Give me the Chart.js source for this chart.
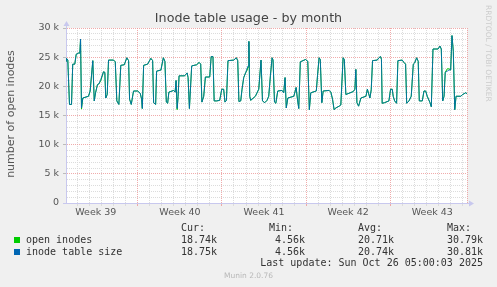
<!DOCTYPE html>
<html><head><meta charset="utf-8">
<script src="https://cdn.jsdelivr.net/npm/chart.js@4/dist/chart.umd.min.js"></script>
<style>
html,body{margin:0;padding:0;background:#f0f0f0;}
#wrap{position:relative;width:497px;height:287px;overflow:hidden;background:#f0f0f0;}
canvas{position:absolute;left:0;top:0;}
.t{position:absolute;white-space:pre;}
.title{font-family:'DejaVu Sans';font-size:12.7px;color:#444;left:0;width:497px;text-align:center;top:10px;line-height:16px;}
.ylab{font-family:'DejaVu Sans';font-size:11px;color:#555;left:-89px;top:107px;width:200px;height:14px;line-height:14px;text-align:center;transform:rotate(-90deg);}
.wm{font-family:'DejaVu Sans';font-size:7.5px;color:#cccccc;writing-mode:vertical-rl;left:484px;top:5px;line-height:8px;}
.mono{font-family:'DejaVu Sans Mono';font-size:10px;color:#333;line-height:12px;}
.ver{font-family:'DejaVu Sans';font-size:7.5px;color:#b8b8b8;left:0;width:497px;text-align:center;top:271px;line-height:10px;}
.sq{position:absolute;width:6px;height:6px;}
</style>
</head><body>
<div id="wrap">
<canvas id="c" width="497" height="287"></canvas>
<div class="t title">Inode table usage - by month</div>
<div class="t ylab">number of open inodes</div>
<div class="t wm">RRDTOOL / TOBI OETIKER</div>
<div id="legend"></div>
<div class="t ver">Munin 2.0.76</div>
</div>
<script>
// x: days since Mon Sep 22 (start of Week 39); y: thousands of inodes
const days = [
1.02,1.06,1.17,1.31,1.48,1.58,1.75,1.87,2.06,2.17,
2.23,2.31,2.42,2.89,3.03,3.25,3.37,3.48,3.64,3.75,
3.92,4.14,4.25,4.33,4.45,4.56,4.98,5.12,5.25,5.42,
5.58,5.87,6.08,6.23,6.31,6.45,6.64,6.98,7.2,7.31,
7.37,7.48,7.81,8.08,8.23,8.31,8.48,8.56,8.92,9.12,
9.25,9.37,9.48,9.58,9.98,10.1,10.18,10.27,10.35,10.43,
10.89,11.1,11.18,11.29,11.48,11.89,12.1,12.23,12.33,12.48,
12.62,12.98,13.1,13.25,13.35,13.56,13.81,13.98,14.14,14.25,
14.37,14.5,14.98,15.2,15.31,15.41,15.56,15.67,15.81,15.98,
16.08,16.17,16.24,16.31,16.39,16.78,17.06,17.25,17.37,17.56,
17.75,17.89,18.03,18.17,18.25,18.37,18.48,18.64,19.0,19.14,
19.25,19.35,19.48,19.98,20.17,20.27,20.39,20.52,20.95,21.14,
21.27,21.39,21.85,21.95,22.08,22.18,22.31,22.42,22.92,23.06,
23.2,23.33,23.48,23.75,23.89,24.08,24.18,24.31,24.92,25.06,
25.14,25.23,25.37,25.56,25.98,26.1,26.31,26.42,26.53,26.92,
27.06,27.2,27.27,27.33,27.53,27.89,28.03,28.17,28.25,28.37,
28.53,28.64,29.0,29.14,29.28,29.37,29.56,29.75,29.92,30.03,
30.2,30.33,30.42,30.67,30.81,30.95,31.08,31.31,31.42,31.56,
31.98,32.14,32.25,32.37,32.48,32.58,32.75,32.89,33.03,33.14,
33.25,33.37,33.48,33.87,34.03,34.28,34.39];

const tableSize = [
24.3,24.8,24.5,16.9,16.9,23.8,23.8,25.5,25.7,25.7,
28.1,16.3,18.0,18.3,19.2,24.4,17.5,18.9,20.3,20.4,
21.2,22.5,22.4,18.0,18.6,24.5,24.5,24.2,17.5,16.9,
23.6,23.7,24.9,24.4,17.8,16.9,19.2,19.2,18.8,17.8,
16.2,23.6,23.8,24.8,24.4,17.2,16.9,22.6,22.8,24.9,
24.3,17.3,17.1,19.0,19.3,19.0,21.0,16.2,18.3,21.8,
21.8,22.3,21.5,16.2,23.5,23.7,24.1,23.8,17.3,18.3,
21.6,21.6,25.1,25.1,17.5,17.5,17.6,19.5,19.5,17.3,
17.6,24.4,24.5,24.9,24.4,17.4,17.5,19.5,21.5,22.4,
23.0,23.5,27.7,18.3,17.6,18.3,19.5,24.5,17.5,17.2,
17.6,18.3,21.8,24.9,24.5,17.3,17.1,19.2,19.3,18.9,
21.5,16.3,18.0,18.3,19.8,18.0,16.2,24.2,24.6,24.3,
16.0,18.9,19.2,21.8,24.9,24.6,17.2,19.2,19.3,19.0,
17.8,16.0,16.3,16.6,16.8,24.9,24.6,18.6,19.1,19.5,
22.9,17.2,16.6,18.0,18.3,19.5,18.0,19.4,24.4,24.5,
24.9,25.1,24.6,17.1,17.2,17.5,19.5,19.5,18.3,17.5,
17.1,24.4,24.5,24.1,23.8,17.1,17.5,18.3,23.8,24.0,
24.9,24.3,17.5,17.5,19.2,19.2,18.3,17.2,16.5,26.4,
26.4,26.9,26.4,17.5,18.3,22.4,22.6,22.8,22.8,28.7,
26.0,16.0,18.3,18.3,18.6,18.9,18.75];

const openInodes = [
24.3,24.8,24.5,16.9,16.9,23.8,23.8,25.5,25.7,25.7,
28.1,16.1,18.0,18.3,19.2,24.4,17.5,18.9,20.3,20.4,
21.0,22.5,22.4,18.0,18.6,24.5,24.5,24.2,17.5,16.9,
23.6,23.7,24.9,24.4,17.8,16.9,19.2,19.2,18.8,17.8,
16.2,23.6,23.8,24.8,24.4,17.2,16.9,22.6,22.8,24.9,
24.3,17.3,17.1,19.0,19.3,19.0,21.0,16.0,18.3,21.8,
21.8,22.3,21.5,16.2,23.5,23.7,24.1,23.8,17.3,18.3,
21.6,21.6,25.1,25.1,17.5,17.5,17.6,19.5,19.5,17.3,
17.6,24.4,24.5,24.9,24.4,17.4,17.5,19.5,21.5,22.4,
22.7,23.3,27.7,18.3,17.6,18.3,19.5,24.5,17.5,17.2,
17.6,18.3,21.8,24.9,24.5,17.3,17.1,19.2,19.3,18.9,
21.5,16.3,18.0,18.3,19.8,18.0,16.2,24.2,24.6,24.3,
16.0,18.9,19.2,21.8,24.9,24.6,17.2,19.2,19.3,19.0,
17.8,16.0,16.3,16.6,16.8,24.9,24.6,18.6,19.1,19.5,
22.9,17.2,16.6,18.0,18.3,19.5,18.0,19.4,24.4,24.5,
24.9,25.1,24.6,17.1,17.2,17.5,19.5,19.5,18.3,17.5,
17.1,24.4,24.5,24.1,23.8,17.1,17.5,18.3,23.8,24.0,
24.9,24.3,17.5,17.5,19.2,19.2,18.3,17.2,16.5,26.4,
26.4,26.9,26.4,17.5,18.3,22.4,23.0,23.0,22.8,28.7,
26.0,16.0,18.3,18.3,18.6,18.9,18.74];

const weekNumbers = [39, 40, 41, 42, 43];
const yLabelStep = 5;   // thousands per labelled gridline
const yMax = 30;

const seriesNames = ['open inodes', 'inode table size'];
const seriesColors = ['#00CC00', '#0066B3'];
const statCur = ['18.74k', '18.75k'];
const statMin = ['4.56k', '4.56k'];
const statAvg = ['20.71k', '20.74k'];
const statMax = ['30.79k', '30.81k'];
const lastUpdate = 'Last update: Sun Oct 26 05:00:03 2025';

// ---- legend (HTML text) ----
(function(){
  const L = document.getElementById('legend');
  const add = (cls, txt, css) => { const d = document.createElement('div'); d.className = 't ' + cls; d.textContent = txt; Object.assign(d.style, css); L.appendChild(d); };
  const heads = ['Cur:', 'Min:', 'Avg:', 'Max:'];
  const headLeft = [181, 269, 358, 447];
  const valRight = [280, 192, 103, 14];
  heads.forEach((h,i)=>add('mono', h, {left: headLeft[i]+'px', top:'222px'}));
  const cols = [statCur, statMin, statAvg, statMax];
  seriesNames.forEach((n, r) => {
    const top = 234 + r*12;
    const sq = document.createElement('div'); sq.className = 'sq';
    Object.assign(sq.style, {left:'14px', top:(top+3)+'px', background: seriesColors[r]});
    L.appendChild(sq);
    add('mono', n, {left:'26px', top: top+'px'});
    cols.forEach((c, i) => add('mono', c[r], {right: valRight[i]+'px', top: top+'px', textAlign:'right'}));
  });
  add('mono', lastUpdate, {right:'14px', top:'257px'});
})();

// ---- chart ----
const xMin = days[0], xMax = days[days.length-1];
const weekCenters = weekNumbers.map((w,i)=> i*7 + 3.5);
const RED = 'rgba(236,150,150,0.8)', GRAY = 'rgba(218,218,218,0.95)', AXIS = '#c8c8ee';

const bgPlugin = {
  id: 'bg',
  beforeDraw(c){ const {ctx, chartArea:a} = c; ctx.save(); ctx.fillStyle = '#ffffff'; ctx.fillRect(a.left, a.top, a.right-a.left, a.bottom-a.top); ctx.restore(); },
  afterDraw(c){
    const {ctx, chartArea:a} = c;
    ctx.save();
    ctx.strokeStyle = AXIS; ctx.fillStyle = AXIS; ctx.lineWidth = 1;
    const lx = Math.round(a.left) + 0.5, by = Math.round(a.bottom) + 0.5;
    ctx.beginPath(); ctx.moveTo(lx, a.top); ctx.lineTo(lx, a.top - 4); ctx.stroke();
    ctx.beginPath(); ctx.moveTo(lx - 3, a.top - 2); ctx.lineTo(lx + 3, a.top - 2); ctx.lineTo(lx, a.top - 7); ctx.closePath(); ctx.fill();
    ctx.beginPath(); ctx.moveTo(a.right, by); ctx.lineTo(a.right + 3, by); ctx.stroke();
    ctx.beginPath(); ctx.moveTo(a.right + 2, by - 3); ctx.lineTo(a.right + 2, by + 3); ctx.lineTo(a.right + 7, by); ctx.closePath(); ctx.fill();
    ctx.beginPath(); ctx.moveTo(a.left - 3, by); ctx.lineTo(a.left, by); ctx.stroke();
    ctx.restore();
  }
};

new Chart(document.getElementById('c'), {
  type: 'line',
  data: {
    datasets: [
      { label: seriesNames[1], data: days.map((d,i)=>({x:d, y:tableSize[i]})), borderColor: 'rgba(0,102,179,0.87)', borderWidth: 1, pointRadius: 0, tension: 0, fill: false, order: 0 },
      { label: seriesNames[0], data: days.map((d,i)=>({x:d, y:openInodes[i]})), borderColor: seriesColors[0], borderWidth: 1, pointRadius: 0, tension: 0, fill: false, order: 1 }
    ]
  },
  options: {
    responsive: false, animation: false, devicePixelRatio: 1,
    layout: { padding: { left: 0, top: 28, right: 30, bottom: 64 } },
    plugins: { legend: { display: false }, title: { display: false }, tooltip: { enabled: false } },
    scales: {
      x: {
        type: 'linear', min: xMin, max: xMax,
        afterBuildTicks: s => {
          const t = [];
          for (let d = Math.ceil(xMin); d <= Math.floor(xMax); d++) t.push({value: d});
          weekCenters.forEach(v => t.push({value: v}));
          t.push({value: xMax});
          t.sort((a,b)=>a.value-b.value);
          s.ticks = t;
        },
        afterFit: s => { s.height = 20; },
        ticks: {
          autoSkip: false, maxRotation: 0, padding: 1, color: '#555',
          font: { family: 'DejaVu Sans', size: 9.5 },
          callback: v => { const i = weekCenters.indexOf(v); return i >= 0 ? 'Week ' + weekNumbers[i] : ''; }
        },
        grid: {
          tickLength: 3,
          color: c => { const v = c.tick.value; if (v === xMax) return RED; if (!Number.isInteger(v)) return 'rgba(0,0,0,0)'; return v % 7 === 0 ? RED : GRAY; },
          tickColor: c => { const v = c.tick.value; if (!Number.isInteger(v)) return 'rgba(0,0,0,0)'; return v % 7 === 0 ? RED : GRAY; }
        },
        border: { color: AXIS, dash: [1, 1] }
      },
      y: {
        min: 0, max: yMax,
        afterBuildTicks: s => { const t = []; for (let v = 0; v <= yMax; v++) t.push({value: v}); s.ticks = t; },
        afterFit: s => { s.width = 66; },
        ticks: {
          autoSkip: false, padding: 4, color: '#555',
          font: { family: 'DejaVu Sans', size: 9.5 },
          callback: v => v % yLabelStep === 0 ? (v === 0 ? '0' : v + ' k') : ''
        },
        grid: {
          tickLength: 3,
          color: c => c.tick.value % yLabelStep === 0 ? RED : GRAY,
          tickColor: c => c.tick.value % yLabelStep === 0 ? '#bbb' : 'rgba(0,0,0,0)'
        },
        border: { color: AXIS, dash: [1, 1] }
      }
    }
  },
  plugins: [bgPlugin]
});
</script>
</body></html>
